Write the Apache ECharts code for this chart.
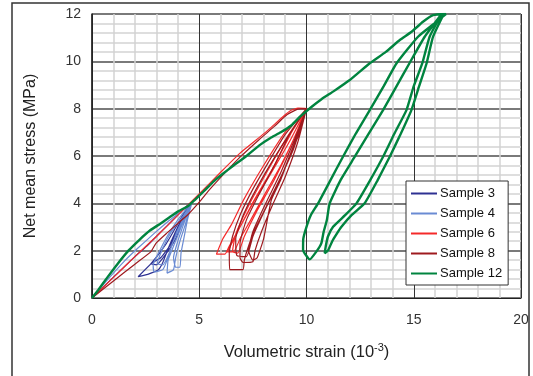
<!DOCTYPE html>
<html>
<head>
<meta charset="utf-8">
<script src="https://cdn.jsdelivr.net/npm/echarts@6/dist/echarts.min.js"></script>
<style>
  html, body { margin: 0; padding: 0; background: #fff; }
  #chart { width: 533px; height: 376px; }
</style>
</head>
<body>
<div id="chart"></div>
<script>
// values, [strain (10^-3), stress (MPa)]
const names = ['Sample 3', 'Sample 4', 'Sample 6', 'Sample 8', 'Sample 12']
const xTicks = [0, 5, 10, 15, 20]
const yTicks = [0, 2, 4, 6, 8, 10, 12]

const sample3 = [
  [0, 0], [1, 0.88], [2, 1.75], [2.53, 2.17], [3.0, 2.6], [3.5, 3.05], [4.0, 3.5], [4.55, 4.0],
  [4.1, 3.3], [3.47, 2.31], [2.77, 1.47], [2.15, 0.9],
  [2.6, 1.0], [3.08, 1.18], [3.3, 1.5], [3.6, 2.2], [4.0, 3.0], [4.55, 4.0],
  [4.3, 3.4], [3.9, 2.5], [3.4, 1.8], [3.0, 1.4], [2.75, 1.45], [3.2, 1.7], [3.7, 2.3], [4.1, 3.1], [4.5, 3.95]
]
const sample4 = [
  [0, 0], [0.8, 0.85], [1.5, 1.55], [2.13, 2.1], [2.9, 2.73], [3.53, 3.22], [3.92, 3.5], [4.3, 3.79], [4.6, 4.0],
  [4.0, 3.3], [3.5, 2.6], [3.1, 1.9], [2.85, 1.4], [2.9, 1.1],
  [3.3, 1.2], [3.5, 1.6], [3.75, 2.3], [4.1, 3.0], [4.6, 4.0],
  [4.2, 3.1], [3.85, 2.3], [3.55, 1.6], [3.5, 1.05],
  [3.8, 1.2], [3.9, 1.7], [4.1, 2.4], [4.35, 3.1], [4.6, 4.0],
  [4.3, 3.2], [4.0, 2.4], [3.8, 1.7], [3.9, 1.3], [4.1, 1.3],
  [4.15, 1.9], [4.3, 2.6], [4.45, 3.3], [4.65, 4.0],
  [4.2, 3.4], [3.7, 2.8], [3.3, 2.1], [3.05, 1.45], [3.3, 1.4], [3.6, 1.9], [3.95, 2.8], [4.6, 3.95]
]
const sample6 = [
  [0, 0], [1, 0.87], [2, 1.75], [3, 2.6], [4, 3.5], [5.02, 4.42], [5.95, 5.27], [6.89, 6.11],
  [8.13, 7.03], [8.9, 7.66], [9.3, 7.94], [9.6, 8.02], [10, 8.0],
  [9.0, 7.0], [8.0, 5.6], [7.1, 4.2], [6.5, 3.1], [6.1, 2.5], [5.8, 1.85],
  [6.2, 1.85], [6.4, 2.2], [6.9, 3.0], [7.5, 4.0], [8.3, 5.2], [9.2, 6.6], [10, 8.0],
  [9.3, 7.0], [8.5, 5.6], [7.6, 4.2], [6.9, 3.0], [6.4, 2.1], [6.3, 1.95],
  [6.6, 1.95], [6.9, 2.5], [7.4, 3.3], [8.0, 4.3], [8.8, 5.6], [9.5, 6.9], [10, 8.0],
  [9.1, 6.8], [8.2, 5.4], [7.3, 3.9], [6.7, 2.7], [6.55, 1.95], [6.8, 1.9],
  [7.1, 2.6], [7.7, 3.7], [8.5, 5.0], [9.3, 6.5], [10, 8.0]
]
const sample8 = [
  [0, 0], [1, 0.72], [2, 1.43], [2.75, 1.96], [2.98, 2.31], [3.5, 2.75], [4.0, 3.15], [4.5, 3.55],
  [5.0, 4.05], [5.5, 4.6], [6.0, 5.1], [6.9, 5.95], [7.8, 6.7], [8.5, 7.25], [9.1, 7.75], [9.6, 7.98], [10, 8.0],
  [9.0, 6.9], [8.2, 5.7], [7.5, 4.6], [6.9, 3.5], [6.55, 2.6], [6.4, 1.9], [6.42, 1.2], [7.04, 1.2], [7.1, 1.6],
  [7.3, 2.2], [7.6, 2.9], [8.2, 4.0], [8.9, 5.3], [9.5, 6.7], [10, 8.0],
  [9.2, 6.9], [8.5, 5.6], [7.8, 4.4], [7.2, 3.3], [6.9, 2.3], [6.9, 1.7], [7.04, 1.5], [7.5, 1.53],
  [7.6, 2.0], [7.9, 2.8], [8.4, 3.9], [9.0, 5.1], [9.6, 6.6], [10, 8.0],
  [9.4, 6.6], [8.8, 5.3], [8.1, 4.0], [7.5, 2.8], [7.3, 2.0], [7.5, 1.6], [7.7, 1.7],
  [8.0, 2.5], [8.36, 4.14], [8.8, 5.0], [9.3, 6.2], [9.7, 7.0], [10, 8.0],
  [8.9, 6.5], [7.9, 5.0], [7.1, 3.6], [6.7, 2.5], [6.75, 1.8], [7.2, 1.75],
  [7.5, 2.6], [8.0, 3.6], [8.7, 4.9], [9.4, 6.3], [10, 8.0]
]
const sample12 = [
  [0, 0], [0.3, 0.35], [0.7, 0.85], [1.2, 1.45], [1.7, 2.0], [2.2, 2.45], [2.7, 2.85], [3.2, 3.15],
  [3.6, 3.4], [4.0, 3.65], [4.5, 3.9], [4.8, 4.15], [5.2, 4.5], [5.7, 4.95], [6.1, 5.25], [6.6, 5.6],
  [7.2, 6.0], [7.8, 6.45], [8.3, 6.75], [8.8, 7.0], [9.3, 7.3], [9.7, 7.66], [10.2, 8.05], [10.7, 8.4],
  [11.24, 8.72], [12.0, 9.2], [12.95, 9.92], [13.7, 10.4], [14.35, 10.9], [14.9, 11.25], [15.43, 11.67],
  [15.9, 11.95], [16.5, 12.0],
  // first unload / reload
  [16.1, 11.7], [15.2, 11.04], [14.2, 9.92], [13.6, 8.95], [12.95, 7.94], [12.3, 6.95], [11.7, 5.97],
  [11.1, 4.95], [10.54, 4.0], [10.2, 3.5], [10.0, 3.01], [9.85, 2.5], [9.84, 2.03], [10.15, 1.63],
  [10.45, 1.95], [10.69, 2.31], [10.8, 2.8], [10.95, 3.3], [11.08, 4.0], [11.6, 5.0], [12.25, 5.97],
  [12.9, 6.95], [13.57, 7.94], [14.2, 8.95], [14.8, 9.92], [15.51, 11.04], [16.3, 12.0],
  // second unload / reload
  [15.74, 11.04], [15.4, 9.92], [15.0, 8.95], [14.66, 7.94], [14.1, 6.95], [13.57, 5.97], [12.95, 4.95],
  [12.33, 4.0], [11.8, 3.5], [11.24, 3.01], [11.0, 2.6], [10.9, 2.2], [10.85, 1.89],
  [11.0, 2.0], [11.2, 2.4], [11.4, 2.7], [11.63, 3.01], [12.1, 3.5], [12.71, 4.0], [13.3, 4.95],
  [13.88, 5.97], [14.4, 6.95], [14.89, 7.94], [15.25, 8.95], [15.6, 9.92], [15.9, 11.04], [16.4, 12.0]
]

const allData = [sample3, sample4, sample6, sample8, sample12]
const colors = ['#2e3192', '#6a8bd3', '#f42a2a', '#9e1a1f', '#00843f']
const widths = [1.2, 1.2, 1.2, 1.2, 2.4]

const chart = echarts.init(document.getElementById('chart'))

const option = {
  animation: false,
  textStyle: { fontFamily: 'Liberation Sans, Arial, sans-serif' },
  graphic: [
    {
      type: 'rect',
      shape: { x: 12, y: 3, width: 517, height: 390 },
      style: { fill: 'none', stroke: '#333', lineWidth: 1.5 },
      z: -1
    }
  ],
  grid: { left: 92, right: 12, top: 14, bottom: 78, show: true, borderColor: '#333', borderWidth: 1 },
  legend: {
    data: names,
    orient: 'vertical',
    left: 406,
    top: 181,
    width: 102,
    padding: [6, 6, 5, 4],
    itemWidth: 26,
    itemHeight: 14,
    itemGap: 7,
    itemStyle: { opacity: 0 },
    backgroundColor: '#fff',
    borderColor: '#333',
    borderWidth: 1,
    borderRadius: 0,
    textStyle: { fontSize: 13, color: '#111', padding: [0, 0, 0, -2] }
  },
  xAxis: {
    type: 'value',
    min: xTicks[0],
    max: xTicks[xTicks.length - 1],
    interval: 5,
    name: 'Volumetric strain (10{sup|-3})',
    nameLocation: 'middle',
    nameGap: 44,
    nameTextStyle: {
      fontSize: 16.5, color: '#222',
      rich: { sup: { fontSize: 11, color: '#222', verticalAlign: 'top', padding: [0, 0, 9, 0] } }
    },
    axisLine: { lineStyle: { color: '#222', width: 1 } },
    axisTick: { show: false },
    axisLabel: { fontSize: 14, color: '#333', margin: 15 },
    splitLine: { lineStyle: { color: '#333', width: 1 } },
    minorTick: { show: false, splitNumber: 5 },
    minorSplitLine: { show: true, lineStyle: { color: '#d4d4d4', width: 1.5 } }
  },
  yAxis: {
    type: 'value',
    min: yTicks[0],
    max: yTicks[yTicks.length - 1],
    interval: 2,
    name: 'Net mean stress (MPa)',
    nameLocation: 'middle',
    nameGap: 53,
    nameTextStyle: { fontSize: 16, color: '#222' },
    axisLine: { show: true, lineStyle: { color: '#222', width: 1.5 } },
    axisTick: { show: false },
    axisLabel: { fontSize: 14, color: '#333', margin: 11 },
    splitLine: { lineStyle: { color: '#7a7a7a', width: 2 } },
    minorTick: { show: false, splitNumber: 5 },
    minorSplitLine: { show: true, lineStyle: { color: '#d4d4d4', width: 1.5 } }
  },
  series: names.map((n, i) => ({
    name: n,
    type: 'line',
    data: allData[i],
    symbol: 'none',
    color: colors[i],
    lineStyle: { color: colors[i], width: widths[i] },
    smooth: 0.15
  }))
}

option && chart.setOption(option)
</script>
</body>
</html>
